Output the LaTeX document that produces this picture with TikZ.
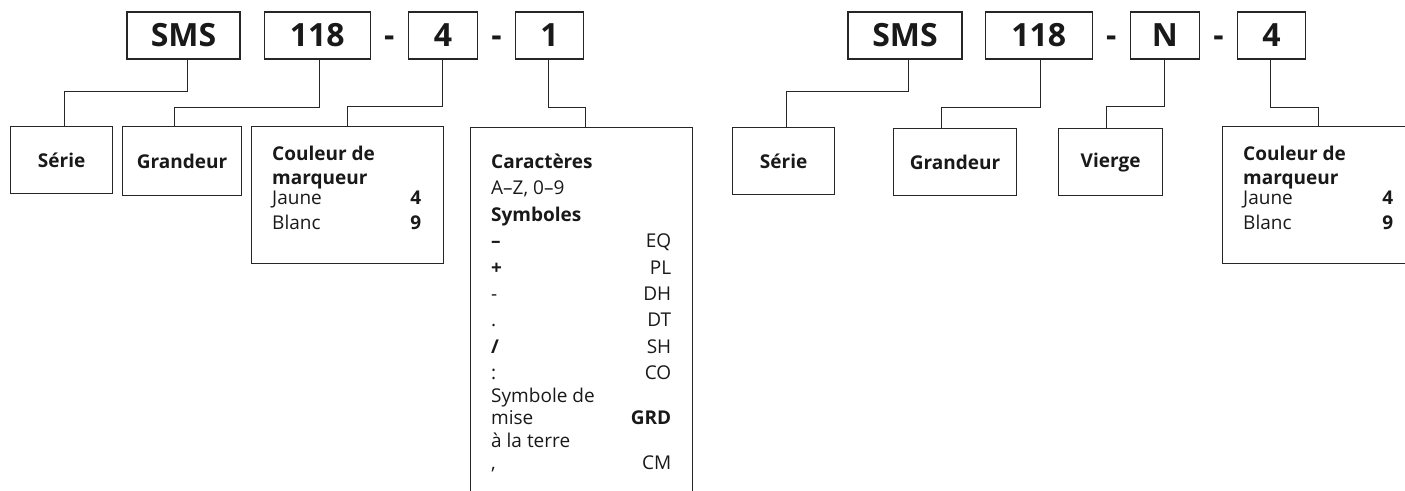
\documentclass[tikz,border=0pt]{standalone}
\usepackage{fontspec}
\setmainfont{Open Sans}
\usetikzlibrary{calc, positioning}
\tikzset{
    codenode/.style = {draw=black!85, line width=1.2pt, rectangle, minimum height=47pt, inner sep=0pt,
      font=\fontsize{32}{34}\selectfont\bfseries, text=black!90},
    dashnode/.style = {inner sep=0pt, anchor=base, font=\fontsize{32}{34}\selectfont\bfseries, text=black!90},
    boxnode/.style = {draw=black!85, line width=1.2pt, rectangle, anchor=north west, inner sep=0pt,
      font=\fontsize{19}{20}\selectfont\bfseries, text=black!90},
    textnode/.style = {anchor=base west, inner sep=0pt, text=black!90, font=\fontsize{19}{20}\selectfont},
    connect/.style = {draw=black!85, line width=0.9pt}
}

\begin{document}
\begin{tikzpicture}[x=1pt, y=-1pt]
    \path[use as bounding box, clip] (0,0) rectangle (1405,490);
    % left code: SMS 118-4-1
    \node[codenode, minimum width=113pt, name=SA] at (183.5,35.5) {SMS};
    \node[codenode, minimum width=106pt, right=23pt of SA, name=GA] {118};
    \node[codenode, minimum width=69pt, right=37pt of GA, name=CA] {4};
    \node[codenode, minimum width=68pt, right=37pt of CA, name=KA] {1};
    \node[dashnode, name=DA1] at ($(GA.east)!0.5!(CA.west)+(0,11)$) {-};
    \node[dashnode, name=DA2] at ($(CA.east)!0.5!(KA.west)+(0,11)$) {-};
    \node[boxnode, minimum width=102pt, minimum height=67pt, name=serieA] at (10,126) {Série};
    \node[boxnode, minimum width=119pt, minimum height=69pt, name=grandA] at (122,126) {Grandeur};
    \node[boxnode, minimum width=192pt, minimum height=137pt, name=coulA] at (251,126) {};
    \node[boxnode, minimum width=222pt, minimum height=400pt, name=carA] at (470,127) {};
    \node[textnode, name=coulAt] at (272,160) {%
      \begin{tabular*}{149pt}[t]{@{}l@{\extracolsep{\fill}}r@{}}
        \textbf{Couleur de} & \\[4pt]
        \textbf{marqueur} & \\
        Jaune & \textbf{4}\\[5pt]
        Blanc & \textbf{9}
      \end{tabular*}};
    \node[textnode, name=carAt] at (491,168) {%
      \begin{tabular*}{180pt}[t]{@{}l@{\extracolsep{\fill}}r@{}}
        \textbf{Caractères} & \\[6.4pt]
        A–Z, 0–9 & \\[6.4pt]
        \textbf{Symboles} & \\[6.4pt]
        \textbf{–} & EQ\\[6.4pt]
        \textbf{+} & PL\\[6.4pt]
        - & DH\\[6.4pt]
        . & DT\\[6.4pt]
        \textbf{/} & SH\\[6.4pt]
        : & CO\\[2.2pt]
        Symbole de & \\[2.2pt]
        mise & \textbf{GRD}\\[2.2pt]
        à la terre & \\[2.2pt]
        , & CM
      \end{tabular*}};
    \draw[connect] ([xshift=3.5pt]SA.south) -- ++(0,32) -| ([xshift=3pt]serieA.north);
    \draw[connect] ([xshift=2pt]GA.south) -- ++(0,48) -| ([xshift=-7.5pt]grandA.north);
    \draw[connect] (CA.south) -- ++(0,47) -| (coulA.north);
    \draw[connect] ([xshift=-1pt]KA.south) -- ++(0,48) -| ([xshift=4pt]carA.north);
    % right code: SMS 118-N-4
    \node[codenode, minimum width=114pt, name=SB] at (905,35.5) {SMS};
    \node[codenode, minimum width=107pt, right=22pt of SB, name=GB] {118};
    \node[codenode, minimum width=69pt, right=37pt of GB, name=VB] {N};
    \node[codenode, minimum width=68pt, right=37pt of VB, name=CB] {4};
    \node[dashnode, name=DB1] at ($(GB.east)!0.5!(VB.west)+(0,11)$) {-};
    \node[dashnode, name=DB2] at ($(VB.east)!0.5!(CB.west)+(0,11)$) {-};
    \node[boxnode, minimum width=102pt, minimum height=67pt, name=serieB] at (732,127) {Série};
    \node[boxnode, minimum width=123pt, minimum height=67pt, name=grandB] at (893,128) {Grandeur};
    \node[boxnode, minimum width=104pt, minimum height=67pt, name=viergeB] at (1058,128) {Vierge};
    \node[boxnode, minimum width=192pt, minimum height=137pt, name=coulB] at (1222,126) {};
    \node[textnode, name=coulBt] at (1243,160) {%
      \begin{tabular*}{150pt}[t]{@{}l@{\extracolsep{\fill}}r@{}}
        \textbf{Couleur de} & \\[4pt]
        \textbf{marqueur} & \\
        Jaune & \textbf{4}\\[5pt]
        Blanc & \textbf{9}
      \end{tabular*}};
    \draw[connect] ([xshift=3pt]SB.south) -- ++(0,32) -| ([xshift=3pt]serieB.north);
    \draw[connect] ([xshift=1.5pt]GB.south) -- ++(0,48) -| ([xshift=-13.5pt]grandB.north);
    \draw[connect] (VB.south) -- ++(0,47) -| ([xshift=-4pt]viergeB.north);
    \draw[connect] ([xshift=-1pt]CB.south) -- ++(0,48) -| (coulB.north);
\end{tikzpicture}
\end{document}
